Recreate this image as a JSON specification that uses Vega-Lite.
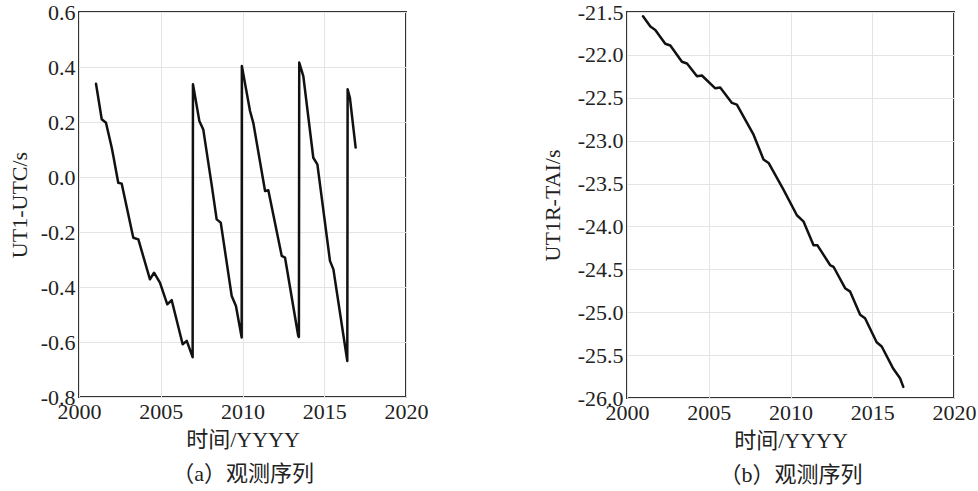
{
  "$schema": "https://vega.github.io/schema/vega-lite/v6.json",
  "background": "white",
  "padding": {"left": 7, "top": 0, "right": 5, "bottom": 5},
  "bounds": "flush",
  "spacing": 221,
  "datasets": {
    "a": [
      {"i":0,"year":2001.04,"v":0.339},
      {"i":1,"year":2001.39,"v":0.21},
      {"i":2,"year":2001.65,"v":0.197},
      {"i":3,"year":2002.0,"v":0.107},
      {"i":4,"year":2002.1,"v":0.076},
      {"i":5,"year":2002.4,"v":-0.021},
      {"i":6,"year":2002.61,"v":-0.024},
      {"i":7,"year":2003.32,"v":-0.221},
      {"i":8,"year":2003.63,"v":-0.227},
      {"i":9,"year":2004.34,"v":-0.372},
      {"i":10,"year":2004.59,"v":-0.348},
      {"i":11,"year":2004.95,"v":-0.384},
      {"i":12,"year":2005.4,"v":-0.463},
      {"i":13,"year":2005.67,"v":-0.448},
      {"i":14,"year":2006.34,"v":-0.608},
      {"i":15,"year":2006.59,"v":-0.596},
      {"i":16,"year":2006.95,"v":-0.655},
      {"i":17,"year":2006.97,"v":0.337},
      {"i":18,"year":2007.36,"v":0.204},
      {"i":19,"year":2007.6,"v":0.173},
      {"i":20,"year":2008.11,"v":-0.027},
      {"i":21,"year":2008.42,"v":-0.154},
      {"i":22,"year":2008.67,"v":-0.166},
      {"i":23,"year":2009.34,"v":-0.433},
      {"i":24,"year":2009.6,"v":-0.469},
      {"i":25,"year":2009.95,"v":-0.584},
      {"i":26,"year":2009.96,"v":0.404},
      {"i":27,"year":2010.46,"v":0.24},
      {"i":28,"year":2010.66,"v":0.197},
      {"i":29,"year":2011.38,"v":-0.051},
      {"i":30,"year":2011.58,"v":-0.048},
      {"i":31,"year":2012.4,"v":-0.287},
      {"i":32,"year":2012.6,"v":-0.293},
      {"i":33,"year":2013.41,"v":-0.578},
      {"i":34,"year":2013.45,"v":-0.582},
      {"i":35,"year":2013.47,"v":0.416},
      {"i":36,"year":2013.72,"v":0.367},
      {"i":37,"year":2014.33,"v":0.07},
      {"i":38,"year":2014.58,"v":0.046},
      {"i":39,"year":2015.35,"v":-0.305},
      {"i":40,"year":2015.56,"v":-0.336},
      {"i":41,"year":2016.41,"v":-0.669},
      {"i":42,"year":2016.43,"v":0.319},
      {"i":43,"year":2016.57,"v":0.288},
      {"i":44,"year":2016.92,"v":0.107}
    ],
    "b": [
      {"year":2000.98,"v":-21.55},
      {"year":2001.43,"v":-21.67},
      {"year":2001.73,"v":-21.71},
      {"year":2002.34,"v":-21.87},
      {"year":2002.65,"v":-21.89},
      {"year":2003.36,"v":-22.08},
      {"year":2003.67,"v":-22.1},
      {"year":2004.28,"v":-22.25},
      {"year":2004.58,"v":-22.24},
      {"year":2005.4,"v":-22.39},
      {"year":2005.7,"v":-22.38},
      {"year":2006.42,"v":-22.56},
      {"year":2006.72,"v":-22.58},
      {"year":2007.74,"v":-22.93},
      {"year":2008.35,"v":-23.22},
      {"year":2008.66,"v":-23.26},
      {"year":2009.57,"v":-23.57},
      {"year":2010.39,"v":-23.87},
      {"year":2010.79,"v":-23.94},
      {"year":2011.41,"v":-24.22},
      {"year":2011.65,"v":-24.22},
      {"year":2012.42,"v":-24.45},
      {"year":2012.63,"v":-24.47},
      {"year":2013.34,"v":-24.72},
      {"year":2013.65,"v":-24.76},
      {"year":2014.26,"v":-25.03},
      {"year":2014.56,"v":-25.07},
      {"year":2015.27,"v":-25.35},
      {"year":2015.58,"v":-25.4},
      {"year":2016.29,"v":-25.66},
      {"year":2016.7,"v":-25.77},
      {"year":2016.9,"v":-25.87}
    ]
  },
  "config": {
    "font": "'Liberation Serif', 'Noto Sans CJK SC', serif",
    "view": {"stroke": "#333", "strokeWidth": 2},
    "axis": {
      "labelFont": "Liberation Serif",
      "labelFontSize": 22,
      "labelColor": "#222",
      "titleFont": "'Liberation Serif', 'Noto Sans CJK SC', serif",
      "titleFontSize": 22,
      "titleFontWeight": "normal",
      "titleColor": "#222",
      "grid": true,
      "gridColor": "#e4e4e4",
      "gridWidth": 1,
      "ticks": false,
      "domain": false
    }
  },
  "hconcat": [
    {
      "width": 327,
      "height": 385,
      "data": {"name": "a"},
      "mark": {"type": "line", "color": "#111", "strokeWidth": 2.5, "strokeJoin": "round", "strokeCap": "round"},
      "encoding": {
        "x": {"field": "year", "type": "quantitative",
          "scale": {"domain": [2000, 2020], "nice": false, "zero": false},
          "axis": {"values": [2000, 2005, 2010, 2015, 2020], "format": "d", "labelPadding": 4,
            "title": ["时间/YYYY", "（a）观测序列"], "titleLineHeight": 34, "titlePadding": 7, "labelFlush": false}},
        "y": {"field": "v", "type": "quantitative",
          "scale": {"domain": [-0.8, 0.6], "nice": false, "zero": false},
          "axis": {"values": [-0.8, -0.6, -0.4, -0.2, 0, 0.2, 0.4, 0.6],
            "labelExpr": "replace(format(datum.value, '.1f'), '\u2212', '-')",
            "labelPadding": 4, "title": "UT1-UTC/s", "titlePadding": 9}},
        "order": {"field": "i", "type": "quantitative"}
      }
    },
    {
      "width": 327,
      "height": 386,
      "data": {"name": "b"},
      "mark": {"type": "line", "color": "#111", "strokeWidth": 2.5, "strokeJoin": "round", "strokeCap": "round"},
      "encoding": {
        "x": {"field": "year", "type": "quantitative",
          "scale": {"domain": [2000, 2020], "nice": false, "zero": false},
          "axis": {"values": [2000, 2005, 2010, 2015, 2020], "format": "d", "labelPadding": 4,
            "title": ["时间/YYYY", "（b）观测序列"], "titleLineHeight": 34, "titlePadding": 7, "labelFlush": false}},
        "y": {"field": "v", "type": "quantitative",
          "scale": {"domain": [-26, -21.5], "nice": false, "zero": false},
          "axis": {"values": [-26, -25.5, -25, -24.5, -24, -23.5, -23, -22.5, -22, -21.5],
            "labelExpr": "replace(format(datum.value, '.1f'), '\u2212', '-')",
            "labelPadding": 4, "title": "UT1R-TAI/s", "titlePadding": 13}}
      }
    }
  ]
}
